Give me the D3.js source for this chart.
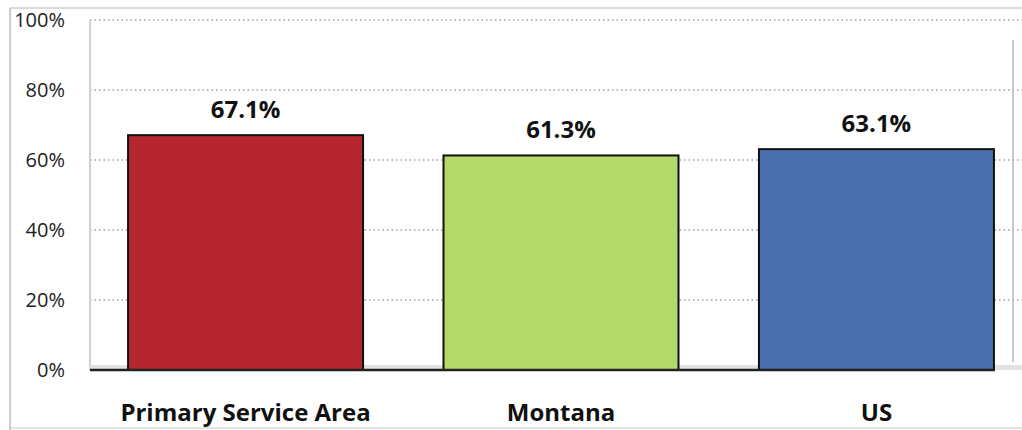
<!DOCTYPE html>
<html><head><meta charset="utf-8">
<script src="https://cdn.jsdelivr.net/npm/d3@7"></script>
<style>body{margin:0;background:#fff}svg{display:block}</style>
</head><body>
<svg id="c" width="1022" height="430"></svg>
<script>
const categories = ["Primary Service Area", "Montana", "US"];
const values = [67.1, 61.3, 63.1];
const colors = ["#b5262f", "#b4d86a", "#4a6eae"];
const yTicks = [0, 20, 40, 60, 80, 100];

const svg = d3.select("#c");
const W = 1022, H = 430;
const plot = {left: 90, right: 1013, top: 20, bottom: 370};

// frame
svg.append("line").attr("x1", 10).attr("x2", W).attr("y1", 8).attr("y2", 8).attr("stroke", "#cfcfcf").attr("stroke-width", 1.5);
svg.append("line").attr("x1", 10).attr("x2", 10).attr("y1", 8).attr("y2", H).attr("stroke", "#bdbdbd").attr("stroke-width", 1.5);
svg.append("line").attr("x1", 10).attr("x2", W).attr("y1", 428).attr("y2", 428).attr("stroke", "#c8c8c8").attr("stroke-width", 1);

const y = d3.scaleLinear().domain([0, 100]).range([plot.bottom, plot.top]);
const x = d3.scaleBand().domain(categories).range([88, 1034]).paddingInner(0.255).paddingOuter(0.127);

// gridlines
svg.append("g").selectAll("line").data(yTicks.filter(d => d > 0)).join("line")
  .attr("x1", plot.left).attr("x2", W).attr("y1", d => y(d)).attr("y2", d => y(d))
  .attr("stroke", "#a0a0a0").attr("stroke-width", 1.3).attr("stroke-dasharray", "1.5,3");

// left wall and right wall
svg.append("line").attr("x1", plot.left).attr("x2", plot.left).attr("y1", plot.top).attr("y2", plot.bottom).attr("stroke", "#d0d0d0").attr("stroke-width", 2);
svg.append("line").attr("x1", plot.right).attr("x2", plot.right).attr("y1", 40).attr("y2", 362).attr("stroke", "#b8b8b8").attr("stroke-width", 1.5);

// floor shadow
svg.append("rect").attr("x", plot.left).attr("y", plot.bottom - 5).attr("width", W - plot.left).attr("height", 5).attr("fill", "#e2e2e2");

// y axis labels
svg.append("g").selectAll("text").data(yTicks).join("text")
  .attr("x", 65).attr("y", d => y(d) + 7).attr("text-anchor", "end")
  .attr("font-family", "Open Sans, sans-serif").attr("font-size", 20).attr("fill", "#222")
  .text(d => d + "%");

// bars
svg.append("g").selectAll("rect").data(values).join("rect")
  .attr("x", (d, i) => x(categories[i])).attr("width", x.bandwidth())
  .attr("y", d => y(d)).attr("height", d => y(0) - y(d))
  .attr("fill", (d, i) => colors[i]).attr("stroke", "#111").attr("stroke-width", 2);

// axis line
svg.append("line").attr("x1", plot.left).attr("x2", 995).attr("y1", plot.bottom).attr("y2", plot.bottom).attr("stroke", "#222").attr("stroke-width", 2.5);

// value labels
svg.append("g").selectAll("text").data(values).join("text")
  .attr("x", (d, i) => x(categories[i]) + x.bandwidth() / 2).attr("y", d => y(d) - 17)
  .attr("text-anchor", "middle").attr("font-family", "Open Sans, sans-serif").attr("font-weight", "bold")
  .attr("font-size", 24).attr("fill", "#111").text(d => d.toFixed(1) + "%");

// category labels
svg.append("g").selectAll("text").data(categories).join("text")
  .attr("x", d => x(d) + x.bandwidth() / 2).attr("y", 421)
  .attr("text-anchor", "middle").attr("font-family", "Open Sans, sans-serif").attr("font-weight", "bold")
  .attr("font-size", 24).attr("fill", "#111").text(d => d);
</script>
</body></html>
